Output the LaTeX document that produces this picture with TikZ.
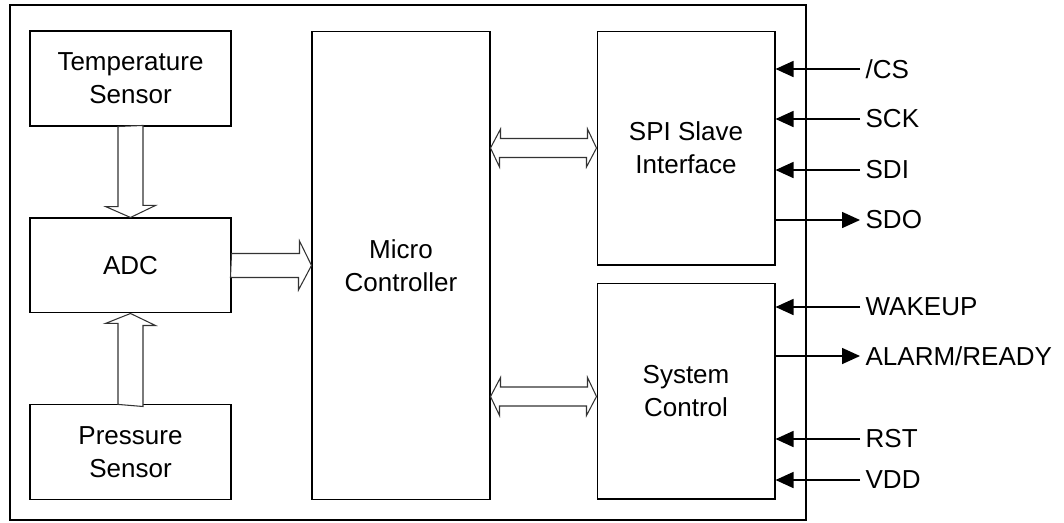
\documentclass[tikz,border=0pt]{standalone}
\usepackage{fontspec}
\setmainfont{Liberation Sans}
\usepackage{tikz}
\usetikzlibrary{arrows.meta}
\tikzstyle{block} = [rectangle, inner sep=0pt,
minimum width=4.02cm,
minimum height=1.9cm,
text centered, align=center,
draw=black, line width=0.6pt]
\tikzstyle{chip} = [rectangle, inner sep=0pt, draw=black, line width=1.3pt]
\tikzstyle{fat} = [draw=black!80, line width=0.6pt, fill=white]
\tikzstyle{sig} = [anchor=west, inner sep=3pt]
\tikzstyle{arrow} = [line width=0.9pt, -{Triangle[length=0.36cm,width=0.32cm]}]

\begin{document}
\begin{tikzpicture}[x=0.02cm, y=-0.02cm, node distance=3.74cm,
    font=\fontsize{14.8pt}{18.8pt}\selectfont]
        \useasboundingbox (0,0) rectangle (1064,522);
        \node (chip) [chip, minimum width=15.92cm, minimum height=10.3cm] at (408,262.5) {};
        % sensor column
        \node (temp) [block] at (130.5,78.5) {Temperature\\Sensor};
        \node (adc) [block, below of=temp] {ADC};
        \node (pres) [block, below of=adc] {Pressure\\Sensor};
        % core and interfaces
        \node (mc) [block, minimum width=3.56cm, minimum height=9.38cm] at (401,265.5) {Micro\\Controller};
        \node (spi) [block, minimum width=3.56cm, minimum height=4.68cm] at (686,148) {SPI Slave\\Interface};
        \node (sys) [block, minimum width=3.56cm, minimum height=4.32cm] at (686,391) {System\\Control};
        % block arrows
        \draw [fat] (temp.south) ++(-12.5,0) -- ++(0,80) -- ++(-12.5,0) -- (adc.north)
            -- ++(25,-12) -- ++(-12.5,0) -- ++(0,-80) -- cycle;
        \draw [fat] (pres.north) ++(-12.5,0) -- ++(0,-81) -- ++(-12.5,0) -- (adc.south)
            -- ++(25,12) -- ++(-12.5,0) -- ++(0,81) -- cycle;
        \draw [fat] (adc.east) ++(0,-12) -- ++(68,0) -- ++(0,-12.5) -- (mc.west |- adc.east)
            -- ++(-13,24.5) -- ++(0,-12.5) -- ++(-68,0) -- cycle;
        \draw [fat] (mc.east |- spi.west) -- ++(10,-19) -- ++(0,9.5) -- ++(87,0) -- ++(0,-9.5)
            -- (spi.west) -- ++(-10,19) -- ++(0,-9.5) -- ++(-87,0) -- ++(0,9.5) -- cycle;
        \draw [fat] ([yshift=-0.11cm]sys.west -| mc.east) -- ++(10,-19) -- ++(0,9.5) -- ++(87,0) -- ++(0,-9.5)
            -- ([yshift=-0.11cm]sys.west) -- ++(-10,19) -- ++(0,-9.5) -- ++(-87,0) -- ++(0,9.5) -- cycle;
        % pins
        \node (cs) [sig] at (860,69) {/CS};
        \node (sck) [sig] at (860,119) {SCK};
        \node (sdi) [sig] at (860,170) {SDI};
        \node (sdo) [sig] at (860,220) {SDO};
        \node (wake) [sig] at (860,307) {WAKEUP};
        \node (alarm) [sig] at (860,356) {ALARM/READY};
        \node (rst) [sig] at (860,439) {RST};
        \node (vdd) [sig] at (860,480) {VDD};
        \draw [arrow] (cs.west) -- (spi.east |- cs.west);
        \draw [arrow] (sck.west) -- (spi.east |- sck.west);
        \draw [arrow] (sdi.west) -- (spi.east |- sdi.west);
        \draw [arrow] (spi.east |- sdo.west) -- (sdo.west);
        \draw [arrow] (wake.west) -- (sys.east |- wake.west);
        \draw [arrow] (sys.east |- alarm.west) -- (alarm.west);
        \draw [arrow] (rst.west) -- (sys.east |- rst.west);
        \draw [arrow] (vdd.west) -- (sys.east |- vdd.west);
    \end{tikzpicture}
\end{document}
